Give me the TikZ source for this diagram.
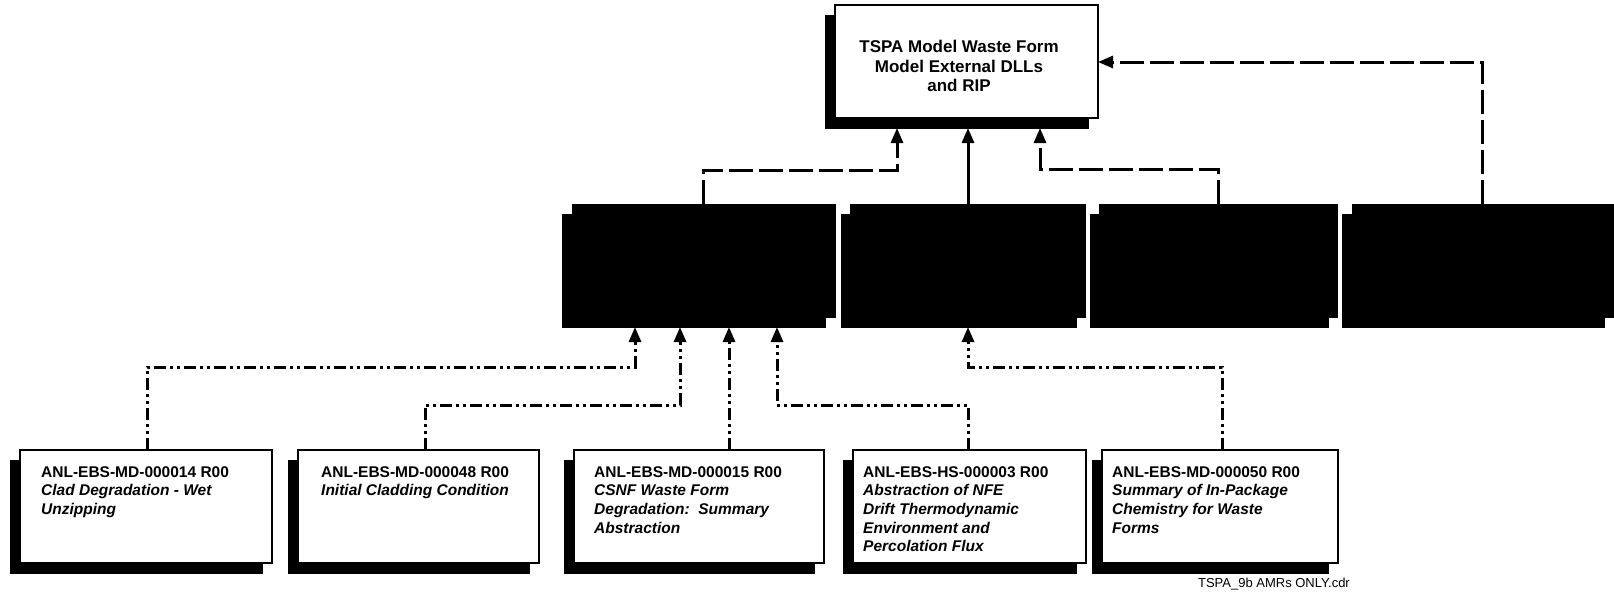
\documentclass[tikz,border=0pt]{standalone}
\usepackage{fontspec}
\setmainfont{Liberation Sans}
\usetikzlibrary{arrows.meta}
\begin{document}
\begin{tikzpicture}[x=1pt,y=-1pt,
  wbox/.style={draw=black, fill=white, line width=2.4pt, anchor=north west, inner sep=0pt, outer sep=0pt, minimum height=113pt},
  bbox/.style={draw=black, fill=black, line width=1pt, anchor=north west, inner sep=0pt, outer sep=0pt, minimum height=113pt},
  lbl/.style={font=\fontsize{15.5}{18.7}\selectfont\bfseries, align=left, anchor=north west, inner sep=0pt},
  arr/.style={-{Triangle[width=12pt,length=15pt]}},
  solidc/.style={line width=3pt, arr},
  longdash/.style={line width=3pt, dash pattern=on 24pt off 6pt, arr},
  ddot/.style={line width=3pt, dash pattern=on 12pt off 4pt on 3pt off 4pt on 3pt off 4pt, arr},
]
\useasboundingbox (0,0) rectangle (1614,597);
\fill[white] (0,0) rectangle (1614,597);

% top box
\node[bbox, minimum width=263pt] (tops) at (825,15) {};
\node[wbox, minimum width=263pt] (top) at (835,5) {};
\node[font=\fontsize{17}{19.8}\selectfont\bfseries, align=center, inner sep=0pt] (toptxt) at (959,66) {TSPA Model Waste Form\\Model External DLLs\\and RIP};

% middle black boxes
\node[bbox, minimum width=263pt] (m1s) at (562,214) {};
\node[bbox, minimum width=263pt] (m1) at (572,204) {};
\node[bbox, minimum width=235pt] (m2s) at (841,214) {};
\node[bbox, minimum width=235pt] (m2) at (850,204) {};
\node[bbox, minimum width=238pt] (m3s) at (1090,214) {};
\node[bbox, minimum width=238pt] (m3) at (1099,204) {};
\node[bbox, minimum width=262pt] (m4s) at (1342,214) {};
\node[bbox, minimum width=262pt] (m4) at (1352,204) {};

% bottom boxes
\node[bbox, minimum width=252pt] (b1s) at (10,460) {};
\node[wbox, minimum width=252pt] (b1) at (20,450) {};
\node[bbox, minimum width=241pt] (b2s) at (288,460) {};
\node[wbox, minimum width=241pt] (b2) at (298,450) {};
\node[bbox, minimum width=250pt] (b3s) at (564,460) {};
\node[wbox, minimum width=250pt] (b3) at (574,450) {};
\node[bbox, minimum width=233pt] (b4s) at (843,460) {};
\node[wbox, minimum width=233pt] (b4) at (853,450) {};
\node[bbox, minimum width=236pt] (b5s) at (1092,460) {};
\node[wbox, minimum width=236pt] (b5) at (1102,450) {};

\node[lbl] (t1) at ([xshift=21pt,yshift=-16pt]b1.north west) {ANL-EBS-MD-000014 R00\\\textit{Clad Degradation - Wet}\\\textit{Unzipping}};
\node[lbl] (t2) at ([xshift=23pt,yshift=-16pt]b2.north west) {ANL-EBS-MD-000048 R00\\\textit{Initial Cladding Condition}};
\node[lbl] (t3) at ([xshift=20pt,yshift=-16pt]b3.north west) {ANL-EBS-MD-000015 R00\\\textit{CSNF Waste Form}\\\textit{Degradation:\ \ Summary}\\\textit{Abstraction}};
\node[lbl] (t4) at ([xshift=10pt,yshift=-16pt]b4.north west) {ANL-EBS-HS-000003 R00\\\textit{Abstraction of NFE}\\\textit{Drift Thermodynamic}\\\textit{Environment and}\\\textit{Percolation Flux}};
\node[lbl] (t5) at ([xshift=10pt,yshift=-16pt]b5.north west) {ANL-EBS-MD-000050 R00\\\textit{Summary of In-Package}\\\textit{Chemistry for Waste}\\\textit{Forms}};

\node[font=\fontsize{13}{15}\selectfont, anchor=base east, inner sep=0pt] (foot) at (1350,587) {TSPA\_9b AMRs ONLY.cdr};

% connectors middle -> top
\coordinate (k1) at (703,170);
\coordinate (k2) at (897,170);
\coordinate (k3) at (968,170);
\coordinate (k4) at (1218,169);
\coordinate (k5) at (1040,169);
\coordinate (k6) at (1482,62);
\draw[longdash] (m1.north -| k1) -- (k1) -- (k2) -- (tops.south -| k2);
\draw[solidc] (m2.north -| k3) -- (tops.south -| k3);
\draw[longdash] (m3.north -| k4) -- (k4) -- (k5) -- (tops.south -| k5);
\draw[longdash] (m4.north -| k6) -- (k6) -- (top.east |- k6);

% connectors bottom -> middle
\coordinate (j1) at (147,367);
\coordinate (j2) at (635,367);
\coordinate (j3) at (425,405);
\coordinate (j4) at (680,405);
\coordinate (j5) at (729,400);
\coordinate (j6) at (968,405);
\coordinate (j7) at (777,405);
\coordinate (j8) at (1222,367);
\coordinate (j9) at (968,367);
\draw[ddot] (b1.north -| j1) -- (j1) -- (j2) -- (m1s.south -| j2);
\draw[ddot] (b2.north -| j3) -- (j3) -- (j4) -- (m1s.south -| j4);
\draw[ddot] (b3.north -| j5) -- (m1s.south -| j5);
\draw[ddot] (b4.north -| j6) -- (j6) -- (j7) -- (m1s.south -| j7);
\draw[ddot] (b5.north -| j8) -- (j8) -- (j9) -- (m2s.south -| j9);
\end{tikzpicture}
\end{document}
